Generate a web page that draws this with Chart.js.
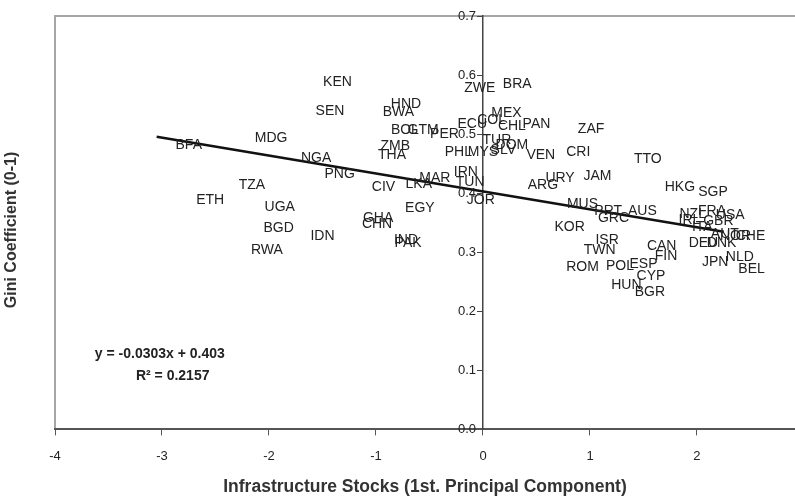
<!DOCTYPE html>
<html>
<head>
<meta charset="utf-8">
<script src="https://cdn.jsdelivr.net/npm/chart.js@4"></script>
<style>
  html, body { margin: 0; padding: 0; background: #fff; }
  #wrap { width: 795px; height: 498px; }
</style>
</head>
<body>
<div id="wrap"><canvas id="giniChart" width="795" height="498"></canvas></div>
<script>
// country codes and their (infrastructure, gini) values
const countries = ['BFA', 'MDG', 'KEN', 'SEN', 'NGA', 'PNG', 'TZA', 'ETH', 'UGA', 'BGD',
    'RWA', 'IDN', 'CIV', 'GHA', 'CHN', 'IND', 'PAK', 'EGY', 'HND', 'BWA',
    'BOL', 'GTM', 'ZMB', 'THA', 'PER', 'ECU', 'COL', 'MEX', 'CHL', 'PAN',
    'BRA', 'ZWE', 'ZAF', 'CRI', 'VEN', 'TUR', 'DOM', 'PHL', 'MYS', 'SLV',
    'TTO', 'JAM', 'URY', 'ARG', 'IRN', 'TUN', 'LKA', 'MAR', 'JOR', 'MUS',
    'KOR', 'ISR', 'TWN', 'ROM', 'POL', 'ESP', 'CYP', 'HUN', 'BGR', 'GRC',
    'PRT', 'AUS', 'CAN', 'FIN', 'HKG', 'SGP', 'FRA', 'USA', 'NZL', 'IRL',
    'GBR', 'ITA', 'AUT', 'CHE', 'DEU', 'DNK', 'NOR', 'NLD', 'JPN', 'BEL'];
const infraValues = [-2.75, -1.98, -1.36, -1.43, -1.56, -1.34, -2.16, -2.55, -1.90, -1.91,
    -2.02, -1.50, -0.93, -0.98, -0.99, -0.72, -0.70, -0.59, -0.72, -0.79,
    -0.73, -0.56, -0.82, -0.85, -0.36, -0.10, 0.08, 0.22, 0.27, 0.50,
    0.32, -0.03, 1.01, 0.89, 0.54, 0.13, 0.27, -0.23, 0.00, 0.19,
    1.54, 1.07, 0.72, 0.56, -0.16, -0.12, -0.60, -0.45, -0.02, 0.93,
    0.81, 1.16, 1.09, 0.93, 1.28, 1.50, 1.57, 1.34, 1.56, 1.22,
    1.17, 1.49, 1.67, 1.71, 1.84, 2.15, 2.14, 2.31, 1.96, 1.93,
    2.20, 2.05, 2.26, 2.50, 2.06, 2.23, 2.36, 2.40, 2.17, 2.51];
const giniValues = [0.482, 0.494, 0.588, 0.539, 0.460, 0.433, 0.413, 0.389, 0.377, 0.340,
    0.303, 0.328, 0.411, 0.357, 0.347, 0.321, 0.315, 0.374, 0.551, 0.538,
    0.506, 0.506, 0.479, 0.465, 0.500, 0.517, 0.524, 0.536, 0.514, 0.517,
    0.585, 0.578, 0.509, 0.470, 0.465, 0.489, 0.482, 0.470, 0.470, 0.473,
    0.457, 0.429, 0.426, 0.413, 0.436, 0.418, 0.416, 0.426, 0.389, 0.382,
    0.343, 0.321, 0.304, 0.274, 0.276, 0.279, 0.260, 0.245, 0.232, 0.358,
    0.369, 0.370, 0.311, 0.294, 0.411, 0.401, 0.370, 0.362, 0.365, 0.355,
    0.352, 0.342, 0.330, 0.328, 0.316, 0.316, 0.328, 0.291, 0.284, 0.271];

// fitted trend line
const trendSlope = -0.0303;
const trendIntercept = 0.403;
const trendRange = [-3.05, 2.25];
const yTickValues = [0, 0.1, 0.2, 0.3, 0.4, 0.5, 0.6, 0.7];

const points = countries.map((c, i) => ({ x: infraValues[i], y: giniValues[i] }));
const trendPoints = trendRange.map(x => ({ x: x, y: trendSlope * x + trendIntercept }));

const FONT = "'Liberation Sans', Arial, sans-serif";

// draws country codes on the (hidden) points, plus frame, y tick text, equation and y title
const labelPlugin = {
    id: 'labelPlugin',
    beforeDraw(chart) {
        const { ctx, chartArea } = chart;
        ctx.save();
        ctx.strokeStyle = '#a6a6a6';
        ctx.lineWidth = 2;
        ctx.beginPath();
        ctx.moveTo(chartArea.left, chartArea.bottom);
        ctx.lineTo(chartArea.left, chartArea.top);
        ctx.lineTo(chartArea.right + 2, chartArea.top);
        ctx.stroke();
        ctx.restore();
    },
    afterDatasetsDraw(chart) {
        const { ctx } = chart;
        const xs = chart.scales.x, ys = chart.scales.y;
        const meta = chart.getDatasetMeta(1);
        ctx.save();
        ctx.font = '14px ' + FONT;
        ctx.fillStyle = '#222';
        ctx.textAlign = 'center';
        ctx.textBaseline = 'middle';
        meta.data.forEach((pt, i) => {
            ctx.fillText(countries[i], pt.x, pt.y);
        });

        // y tick labels sit left of the centred axis
        ctx.font = '13px ' + FONT;
        ctx.textAlign = 'right';
        const axisX = xs.getPixelForValue(0);
        yTickValues.forEach(v => {
            ctx.fillText(v.toFixed(1), axisX - 7, ys.getPixelForValue(v));
        });

        ctx.textAlign = 'center';
        ctx.font = 'bold 14px ' + FONT;
        ctx.fillText('y = -0.0303x + 0.403', xs.getPixelForValue(-3.02), ys.getPixelForValue(0.127));
        ctx.fillText('R\u00b2 = 0.2157', xs.getPixelForValue(-2.9), ys.getPixelForValue(0.09));

        ctx.translate(12, 230);
        ctx.rotate(-Math.PI / 2);
        ctx.font = 'bold 16px ' + FONT;
        ctx.fillStyle = '#333';
        ctx.fillText('Gini Coefficient (0-1)', 0, 0);
        ctx.restore();
    }
};

const ctx = document.getElementById('giniChart').getContext('2d');
const giniChart = new Chart(ctx, {
    type: 'scatter',
    data: {
        datasets: [{
            type: 'line',
            data: trendPoints,
            borderColor: '#111',
            borderWidth: 2.5,
            pointRadius: 0,
            fill: false
        }, {
            data: points,
            pointRadius: 0,
            pointHoverRadius: 0
        }]
    },
    options: {
        responsive: false,
        animation: false,
        layout: {
            padding: { left: 55, right: 0, top: 16, bottom: 0 }
        },
        plugins: {
            legend: { display: false },
            tooltip: { enabled: false }
        },
        scales: {
            x: {
                type: 'linear',
                position: 'bottom',
                min: -4,
                max: 2.916,
                grid: {
                    drawOnChartArea: false,
                    drawTicks: true,
                    tickLength: 6,
                    color: '#555'
                },
                border: { color: '#555', width: 2 },
                ticks: {
                    stepSize: 1,
                    includeBounds: false,
                    padding: 13,
                    color: '#222',
                    font: { family: FONT, size: 13 }
                },
                title: {
                    display: true,
                    text: 'Infrastructure Stocks (1st. Principal Component)',
                    color: '#333',
                    font: { family: FONT, size: 17.5, weight: 'bold' },
                    padding: { top: 0, bottom: 0 }
                }
            },
            y: {
                type: 'linear',
                position: { x: 0 },
                min: 0,
                max: 0.7,
                afterBuildTicks(scale) {
                    scale.ticks = yTickValues.map(v => ({ value: v }));
                },
                grid: {
                    drawOnChartArea: false,
                    drawTicks: true,
                    tickLength: 5,
                    color: '#444'
                },
                border: { color: '#444', width: 1.5 },
                ticks: { display: false }
            }
        }
    },
    plugins: [labelPlugin]
});
</script>
</body>
</html>
